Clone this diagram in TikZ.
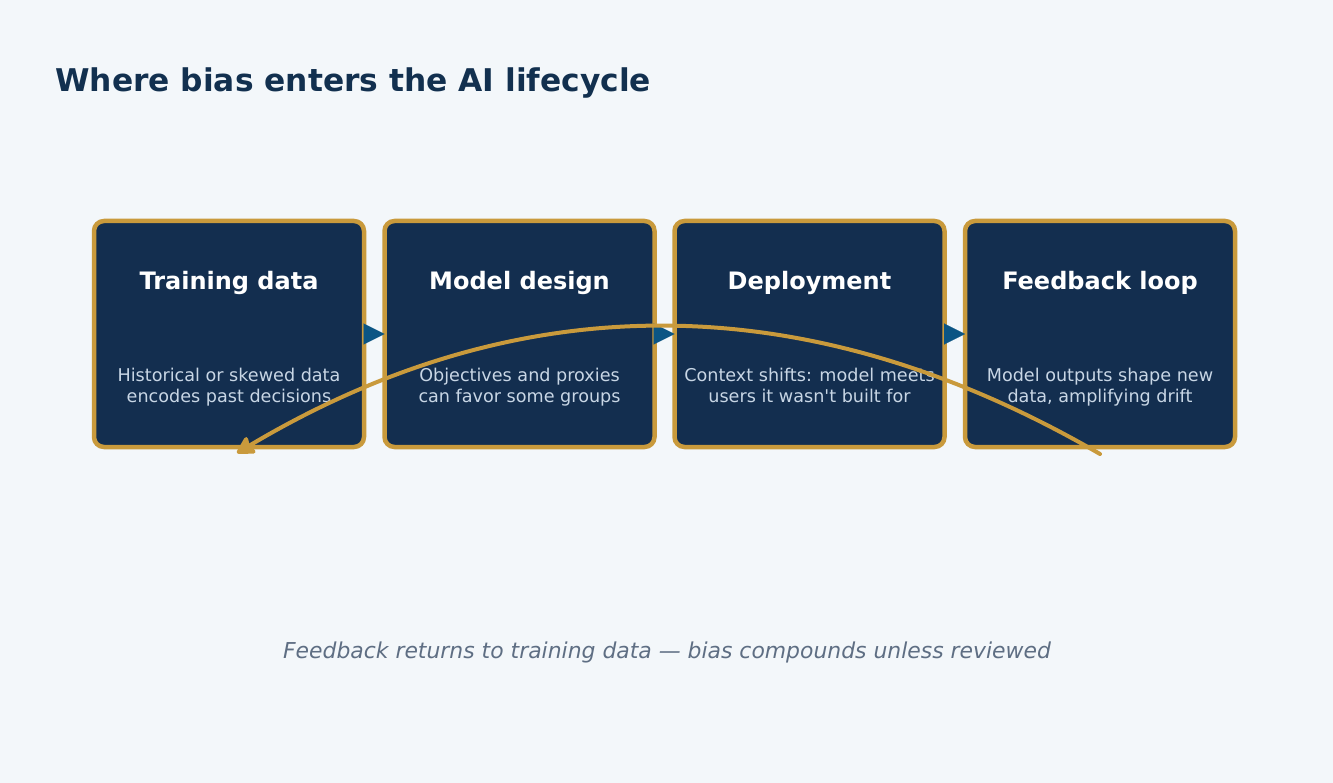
\documentclass[tikz,border=0pt]{standalone}
\usepackage{fontspec}
\setmainfont{DejaVu Sans}
\usetikzlibrary{arrows.meta}
\definecolor{bgc}{HTML}{F3F7FA}
\definecolor{boxfill}{HTML}{132E4F}
\definecolor{gold}{HTML}{C99A3C}
\definecolor{titlec}{HTML}{12304F}
\definecolor{bodyc}{HTML}{C8D6E5}
\definecolor{footc}{HTML}{5E6E83}
\definecolor{arrowblue}{HTML}{0B5584}
\tikzset{
  stagebox/.style={draw=gold, fill=boxfill, line width=4.5pt, rounded corners=10pt,
    minimum width=270pt, minimum height=226pt, inner sep=0pt, outer sep=0pt},
  headtext/.style={text=white, font=\fontsize{24}{28}\selectfont\bfseries, inner sep=0pt},
  bodytext/.style={text=bodyc, font=\fontsize{17.6}{21}\selectfont, align=center, inner sep=0pt},
  steparrow/.style={draw=arrowblue, line width=0.1pt, -{Triangle[length=21pt,width=21pt]}, shorten <=-4pt},
  loopline/.style={draw=gold, line width=4pt, line cap=round, -{Stealth[length=20pt,width=22pt,inset=3pt,round]}}
}
\begin{document}
\begin{tikzpicture}[x=1pt,y=-1pt]
\useasboundingbox[fill=bgc] (0,0) rectangle (1333,783);
\node[anchor=base west, text=titlec, font=\fontsize{31.3}{36}\selectfont\bfseries, inner sep=0pt] (title) at (55,92) {Where bias enters the AI lifecycle};

\node[stagebox] (b1) at (229,334) {};
\node[stagebox] (b2) at (519.5,334) {};
\node[stagebox] (b3) at (809.5,334) {};
\node[stagebox] (b4) at (1100,334) {};

\node[headtext] (h1) at ([yshift=51pt]b1.center) {Training data};
\node[headtext] (h2) at ([yshift=51pt]b2.center) {Model design};
\node[headtext] (h3) at ([yshift=51pt]b3.center) {Deployment};
\node[headtext] (h4) at ([yshift=51pt]b4.center) {Feedback loop};

\node[bodytext] (t1) at ([yshift=-53.4pt]b1.center) {Historical or skewed data\strut\\encodes past decisions\strut};
\node[bodytext] (t2) at ([yshift=-53.4pt]b2.center) {Objectives and proxies\strut\\can favor some groups\strut};
\node[bodytext] (t3) at ([yshift=-53.4pt]b3.center) {Context shifts: model meets\strut\\users it wasn\textquotesingle t built for\strut};
\node[bodytext] (t4) at ([yshift=-53.4pt]b4.center) {Model outputs shape new\strut\\data, amplifying drift\strut};

\draw[steparrow] (b1.east) -- (b2.west);
\draw[steparrow] (b2.east) -- (b3.west);
\draw[steparrow] (b3.east) -- (b4.west);

\coordinate (loopstart) at ([yshift=-7pt]b4.south);
\coordinate (loopend) at ([xshift=8pt,yshift=-6pt]b1.south);
\draw[loopline] (loopstart) .. controls (807.7,284.3) and (520.3,284) .. (loopend);

\node[text=footc, font=\fontsize{21.9}{26}\selectfont\itshape, inner sep=0pt] (foot) at (667,652) {Feedback returns to training data — bias compounds unless reviewed};
\end{tikzpicture}
\end{document}
